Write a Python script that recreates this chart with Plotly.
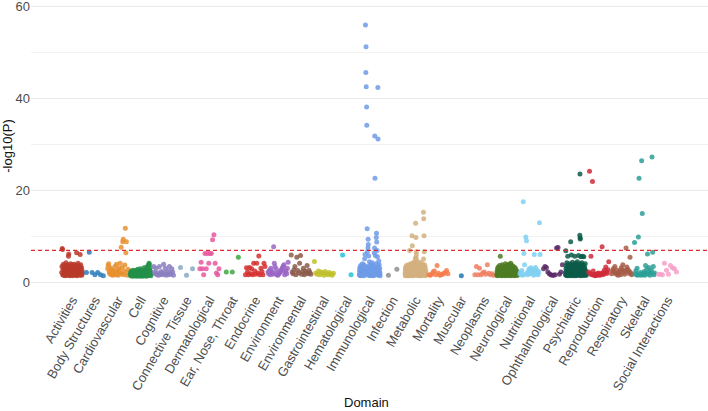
import plotly.graph_objects as go

domains = ["Activities", "Body Structures", "Cardiovascular", "Cell", "Cognitive",
           "Connective Tissue", "Dermatological", "Ear, Nose, Throat", "Endocrine",
           "Environment", "Environmental", "Gastrointestinal", "Hematological",
           "Immunological", "Infection", "Metabolic", "Mortality", "Muscular",
           "Neoplasms", "Neurological", "Nutritional", "Ophthalmological",
           "Psychiatric", "Reproduction", "Respiratory", "Skeletal", "Social Interactions"]

colors = ["#B83A2A", "#2B7BBA", "#E8912F", "#23914A", "#8B7FBF", "#86A9C6", "#E8589F",
          "#3DA83D", "#D62F2F", "#9A66C6", "#8C5A4A", "#BFBF2A", "#22C3D5", "#6F9BE8",
          "#8E8E8E", "#D4B07F", "#F47C4E", "#2179B5", "#EE7F62", "#4E7C25", "#80D0F2",
          "#5A2A66", "#0D5C4A", "#D02A3A", "#A55A45", "#2BA096", "#F6A0C8"]

activities = [2.1,3.4,7.3,7.1,1.6,2.8,3.9,1.5,2.4,3.1,
              1.8,2.6,3.6,1.4,2.2,3.0,4.2,1.7,2.5,3.3,
              1.5,2.0,2.9,3.8,1.6,5.6,6.1,2.3,3.5,1.4,
              2.7,1.9,3.2,4.0,1.5,2.4,3.0,1.8,2.6,3.7,
              1.4,2.1,2.9,3.4,1.6,2.5,3.9,1.7,2.2,3.1,
              1.5,2.8,3.6,1.9,2.4,6.4,1.4,3.3,2.0,2.7,
              4.1,1.6,2.3,3.0,1.8,3.5,2.6,1.5,6.0,2.9,
              3.8,1.7,2.2,3.2,1.5,2.5,1.9]
body_structures = [2.1,6.5,2.1,1.6,2.1,1.6,1.4]
cardiovascular = [2.9,3.6,4.0,2.2,1.8,3.1,2.5,1.6,2.0,2.7,1.5,
                  2.3,1.7,2.1,3.4,1.6,2.4,3.9,1.8,2.2,1.5,
                  2.6,3.0,1.9,4.1,2.0,7.6,1.7,3.2,8.8,9.3,
                  2.4,1.6,3.7,11.7,6.4,8.8,2.1,1.5,2.8]
cell = [1.6,2.1,1.4,1.9,2.4,1.5,1.8,2.2,1.3,1.7,
        2.0,2.6,1.5,1.9,1.4,2.3,1.6,1.8,2.1,1.4,
        1.7,2.5,1.5,2.0,1.3,1.8,2.2,1.6,1.9,2.8,
        1.4,1.7,2.1,1.5,2.4,1.8,1.3,2.0,1.6,2.9,
        1.5,1.9,2.3,1.4,1.7,2.1,1.6,2.6,1.3,1.8,
        2.0,1.5,2.2,1.7,3.1,1.4,1.9,2.4,1.6,2.0,
        1.5,2.7,1.8,1.3,2.2,3.3,1.6,2.0,1.4,2.5,
        1.7,3.6,2.1,1.5,4.1,3.9,1.9,2.6,1.6,3.2,
        2.3,1.4,1.8]
cognitive = [3.4,2.2,1.8,3.0,1.6,2.0,1.5,3.4,1.7,2.3,
             1.9,1.6,3.9,2.1,3.0,1.5,1.8,2.4,1.6,3.4,
             2.0,1.7,2.9,2.2,1.5]
connective_tissue = [3.2,1.5,2.9]
dermatological = [2.9,4.3,2.9,1.6,6.2,2.9,6.2,4.1,6.2,6.2,9.2,10.3,4.1,2.0,1.6,2.9]
ear_nose_throat = [2.2,2.2,5.4]
endocrine = [1.6,3.1,2.2,1.6,3.2,1.8,2.9,1.6,4.1,2.4,1.7,4.1,2.0,5.7,1.6,3.0,2.3,1.6,4.1,3.4]
environment = [2.2,1.8,2.6,1.6,3.0,2.4,1.9,1.7,7.7,4.1,3.4,2.0,2.8,1.6,1.5,
               1.7,1.9,2.1,2.3,2.6,2.9,3.2,3.5,3.8,1.6,2.2,2.5,1.8,3.0,4.3]
environmental = [5.9,2.2,1.8,2.7,3.4,1.6,5.4,2.5,2.0,4.1,5.8,1.7,2.3,3.0,1.6,
                 2.4,2.0,3.6,1.8,2.6,2.1,1.7]
gastrointestinal = [4.5,2.0,1.7,2.4,1.6,2.2,1.9,1.5,2.3,1.8,1.6,2.1,1.7,1.5,1.9]
hematological = [5.9,1.6]
immunological = [1.6,2.4,3.1,1.5,2.0,2.8,1.4,3.6,2.2,1.8,
                 2.6,1.5,3.3,2.1,1.7,2.9,4.0,1.6,2.3,1.9,
                 3.0,1.4,2.5,1.8,3.8,2.0,1.6,2.7,5.1,2.2,
                 6.0,1.5,55.9,3.4,45.6,51.2,42.5,1.7,38.1,34.1,
                 2.4,11.6,6.6,1.9,3.1,7.4,9.3,8.2,2.6,5.7,
                 1.5,3.5,2.0,4.4,1.8,2.7,1.4,3.2,2.2,1.6,
                 3.9,2.5,1.7,2.9,2.1,1.5,3.0,1.9,4.2,2.4,
                 1.6,2.8,3.6,1.4,2.2,3.3,1.8,2.6,6.4,1.5,
                 7.4,31.8,22.6,2.0,5.8,3.1,1.7,2.4,4.0,9.7,
                 10.6,8.7,1.6,6.9,2.9,5.5,2.1,42.3,31.1,3.4,
                 1.5,2.7,4.6,1.9,3.8,2.3,1.6,3.0,2.0,1.4]
infection = [1.5,2.8]
metabolic = [1.8,2.6,1.4,3.2,2.1,1.6,2.9,1.5,2.3,3.6,
             1.7,2.0,2.7,1.4,3.4,1.9,2.5,1.6,3.0,2.2,
             1.5,3.8,1.8,2.4,1.4,2.8,2.0,1.6,3.3,2.2,
             6.9,1.5,2.6,3.5,1.7,2.1,4.0,1.4,2.9,1.8,
             2.4,3.1,1.6,2.0,3.7,1.5,10.1,2.7,7.9,1.9,
             2.3,3.4,1.6,4.2,2.0,1.4,2.8,3.6,1.7,2.2,
             1.5,3.0,2.5,1.8,4.5,2.1,3.9,1.6,2.6,5.2,
             12.8,3.3,9.7,5.3,6.6,6.0,4.8,2.4,3.7,1.9,
             2.9,1.5,3.5,2.2,1.7,4.1,2.0,1.4,3.2,2.6,
             1.8,2.3,3.8,1.6,2.8,1.5,3.1,2.1,1.9,4.3,
             1.6,2.5,3.4,1.4,2.0,2.9,1.7,3.6,2.2,1.5,
             2.7,3.9,1.8,2.4,1.5,3.3,2.0,4.0,1.6,2.8,
             3.5,2.2,15.2,5.0,13.8,1.9,10.1,3.0,6.6,2.4,
             1.5,3.7,2.1,1.7,3.2,1.4,2.6,1.8,2.3,1.6]
mortality = [1.6,1.5,1.7,2.2,2.4,1.6,3.6,1.9,1.5,1.6,1.7,1.9,2.1,2.5,1.8]
muscular = [1.4]
neoplasms = [1.6,3.4,1.6,3.0,1.6,2.0,2.2,1.7,3.8,1.9,1.6,1.8,1.5]
neurological = [1.6,2.3,1.4,2.9,1.8,2.1,3.3,1.5,2.6,1.9,
                2.4,1.7,3.6,2.0,1.5,5.6,2.8,1.6,2.2,3.1,
                1.4,2.5,1.8,3.8,2.1,1.6,2.9,1.5,2.4,3.4,
                1.7,2.0,2.7,1.4,3.2,2.2,1.9,4.0,1.6,2.6,
                2.3,1.5,3.0,1.8,2.5,3.7,1.4,2.1,2.8,1.7,
                3.5,2.0,1.6,2.6,3.9,1.5,2.3,3.1,1.8,2.4,
                4.1,1.4,2.7,3.3,1.9,2.2,3.6,1.6,2.9,2.0,
                1.5,3.4,2.5,1.7,3.0,2.1,1.4,2.6,3.2,1.8,
                2.4,1.6,2.8,1.9,2.2,1.5,2.0,1.7,2.3,1.5]
nutritional = [1.8,2.2,1.6,2.5,1.5,17.5,6.2,3.8,1.7,9.8,
               9.0,2.0,1.6,2.4,2.9,1.8,2.7,3.1,2.3,1.9,
               2.6,1.5,6.0,2.8,3.2,2.1,1.7,2.5,1.6,2.2,
               12.9,6.0]
ophthalmological = [2.9,3.4,3.2,2.2,1.8,1.6,1.5,1.5,1.6,7.4,7.5,1.7,2.2,3.8]
psychiatric = [2.1,1.6,6.8,2.9,1.5,3.6,2.3,1.8,4.2,2.6,
               1.4,3.1,2.0,5.6,1.7,2.7,3.8,1.5,2.4,1.9,
               3.3,2.2,1.6,4.0,2.8,1.4,3.5,2.1,1.8,2.5,
               8.8,1.6,3.0,2.3,5.9,1.5,3.7,2.0,2.9,1.7,
               4.3,2.4,1.4,3.2,2.1,1.9,3.6,2.6,1.5,2.2,
               3.9,1.7,2.8,5.6,2.0,1.6,3.4,2.5,1.4,4.1,
               2.3,1.8,3.0,2.1,1.5,3.7,2.7,1.6,4.4,2.0,
               1.9,3.3,2.4,1.5,2.9,5.8,1.7,3.5,2.2,1.6,
               4.0,2.6,10.2,23.5,9.6,9.4,3.1,1.4,2.3,5.5,
               1.8,3.8,2.5,1.6,4.2,2.0,1.5,3.4,5.6,2.1,
               1.7,3.0,2.4,1.5,3.6,5.5,2.2,1.8,2.8,1.6,
               3.2,2.0,1.5,4.0,2.6,1.7,2.3,1.9,2.1,1.5]
reproduction = [2.2,24.1,1.8,5.6,1.6,21.9,2.4,1.5,1.7,1.4,1.6,1.5,1.8,2.0,1.6,
                1.5,1.7,1.9,7.7,1.6,2.1,2.6,1.8,3.3,2.3,1.9,2.7,4.4]
respiratory = [1.8,2.4,2.9,2.2,3.4,2.0,1.7,2.6,1.5,1.9,2.3,1.6,3.1,2.7,3.8,
               2.2,1.7,2.5,7.4,3.3,2.8,1.9,2.4,5.4,2.0,1.6]
skeletal = [8.6,1.8,2.4,1.6,3.0,1.5,9.8,22.6,1.7,2.1,
            1.5,26.4,14.9,1.6,1.9,2.3,1.5,3.6,2.0,2.8,
            6.1,1.7,3.2,2.2,1.5,1.9,2.6,27.2,6.5,3.4,
            1.6,2.0]
social_interactions = [1.7,1.7,1.6,4.1,2.6,1.7,3.6,3.1,2.9,2.2]

series = [activities, body_structures, cardiovascular, cell, cognitive, connective_tissue,
          dermatological, ear_nose_throat, endocrine, environment, environmental,
          gastrointestinal, hematological, immunological, infection, metabolic, mortality,
          muscular, neoplasms, neurological, nutritional, ophthalmological, psychiatric,
          reproduction, respiratory, skeletal, social_interactions]

threshold = 6.9

fig = go.Figure()
for i, (name, vals, col) in enumerate(zip(domains, series, colors)):
    n = len(vals)
    if n == 1:
        xs = [i]
    else:
        w = 0.92 * (n - 1) / (n + 0.5)
        xs = [i + w * (k / (n - 1) - 0.5) for k in range(n)]
    fig.add_trace(go.Scatter(x=xs, y=vals, mode="markers", name=name,
                             marker=dict(color=col, size=5, opacity=0.85, line=dict(width=0)),
                             showlegend=False))

fig.add_shape(type="line", xref="paper", x0=0, x1=1, yref="y", y0=threshold, y1=threshold,
              line=dict(color="#E0282E", width=1.3, dash="4px,3px"))

fig.add_annotation(text="Domain", xref="paper", yref="paper", x=0.495, y=-0.398,
                   xanchor="center", yanchor="middle", showarrow=False,
                   font=dict(size=13, color="#111111"))

fig.update_layout(
    width=708, height=411,
    margin=dict(l=31, r=0, t=3, b=122),
    plot_bgcolor="white", paper_bgcolor="white",
    font=dict(family="Liberation Sans, Arial, sans-serif", size=13, color="#222222"),
    xaxis=dict(range=[-1.79, 27.77], tickmode="array", tickvals=list(range(len(domains))),
               ticktext=domains, tickangle=-60, showgrid=False, zeroline=False,
               showline=False, ticks="", automargin=False, ticklabeloverflow="allow",
               tickfont=dict(size=13, color="#4D4D4D")),
    yaxis=dict(range=[-1.5, 60.7], tickvals=[0, 20, 40, 60], showgrid=True,
               gridcolor="#EBEBEB", gridwidth=1, zeroline=False, showline=False, ticks="",
               automargin=False, ticklabeloverflow="allow",
               tickfont=dict(size=13, color="#4D4D4D"),
               minor=dict(tickvals=[10, 30, 50], showgrid=True, gridcolor="#F2F2F2", gridwidth=1),
               title=dict(text="-log10(P)", font=dict(size=13, color="#111111"), standoff=6)),
)

fig.write_html("out.html", config={"displayModeBar": False},
               post_script="document.body.style.margin='0px';")
